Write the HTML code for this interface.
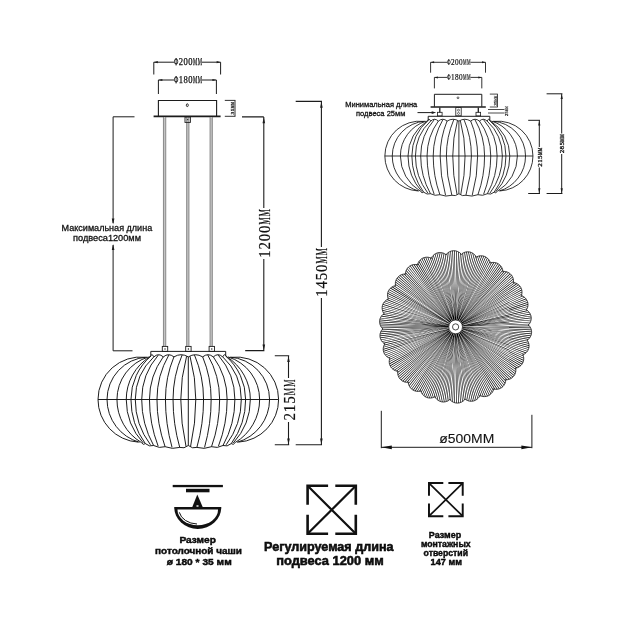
<!DOCTYPE html>
<html lang="ru"><head><meta charset="utf-8"><title>Lamp dimensions</title>
<style>
html,body{margin:0;padding:0;background:#fff;}
body{width:630px;height:630px;overflow:hidden;font-family:"Liberation Sans",sans-serif;}
svg{display:block;will-change:transform;opacity:0.999;}
</style></head><body>
<svg width="630" height="630" viewBox="0 0 630 630">
<rect width="630" height="630" fill="#fff"/>
<g stroke="#1c1c1c" fill="none" stroke-width="1">
<path d="M153.8 74.5 V62.2 H174 M202 62.2 H220.6 V74.5"/>
<path d="M158.4 94 V80 H174 M202 80 H216.4 V94"/>
<path d="M158.4 116 V100.5 H216.6 V116" stroke-width="1.1"/>
<path d="M153.6 116.3 H220.6" stroke-width="1.7"/>
<ellipse cx="187.3" cy="105.2" rx="1" ry="1.4" stroke-width="0.9"/>
<path d="M224.8 100.4 H235.4 M224.8 116.3 H235.4 M235 100.4 V116.3" stroke-width="0.9"/>
<g stroke="#c4c4c4" stroke-width="2">
<path d="M164.6 117.5 V346"/>
<path d="M187.8 117.5 V346"/>
<path d="M211.2 117.5 V346"/>
</g>
<g stroke="#6a6a6a" stroke-width="0.75">
<path d="M163.45 117 V346.4 M165.75 117 V346.4"/>
<path d="M186.65 117 V346.4 M188.95 117 V346.4"/>
<path d="M210.05 117 V346.4 M212.35 117 V346.4"/>
</g>
<rect x="185" y="117" width="5.4" height="5.4" stroke-width="0.9"/><circle cx="187.7" cy="119.6" r="0.7" fill="#1c1c1c" stroke="none"/>
<rect x="162.3" y="346.4" width="5.4" height="5" stroke-width="0.9"/><circle cx="165" cy="349" r="0.7" fill="#1c1c1c" stroke="none"/>
<rect x="185.7" y="346.4" width="5.4" height="5" stroke-width="0.9"/><circle cx="188.4" cy="349" r="0.7" fill="#1c1c1c" stroke="none"/>
<rect x="209.1" y="346.4" width="5.4" height="5" stroke-width="0.9"/><circle cx="211.8" cy="349" r="0.7" fill="#1c1c1c" stroke="none"/>
<path d="M150.8 355.6 V351.4 H225.7 V355.6" stroke-width="1"/>
<path d="M134.5 116.8 H113.1 V223 M113.1 245 V350.8 H132.5" stroke-width="1"/>
<path d="M242 116.9 H263.8 M263.8 116.9 V208 M263.8 259 V350.6 M245.2 350.6 H264.4" stroke-width="1.1"/>
<path d="M295.7 101.4 H322 M321.4 101.4 V247 M321.4 298 V444.7 M295.7 444.7 H322" stroke-width="1.1"/>
<path d="M274.8 355.7 H289.2 M274.8 444.7 H289.2 M288.5 355.7 V378 M288.5 422 V444.7" stroke-width="1.1"/>
</g>
<path d="M113.1 224.6 l-1.3 -6 h2.6 Z" fill="#1c1c1c"/>
<path d="M113.1 244 l-1.3 6 h2.6 Z" fill="#1c1c1c"/>
<path d="M263.8 117.2 l-1.3 6 h2.6 Z" fill="#1c1c1c"/>
<path d="M263.8 350.4 l-1.3 -6 h2.6 Z" fill="#1c1c1c"/>
<path d="M321.4 101.7 l-1.3 6 h2.6 Z" fill="#1c1c1c"/>
<path d="M321.4 444.4 l-1.3 -6 h2.6 Z" fill="#1c1c1c"/>
<path d="M288.5 356 l-1.3 6 h2.6 Z" fill="#1c1c1c"/>
<path d="M288.5 444.4 l-1.3 -6 h2.6 Z" fill="#1c1c1c"/>
<path d="M153.8 62.2 l4 -1.1 v2.2 Z" fill="#1c1c1c"/>
<path d="M220.6 62.2 l-4 -1.1 v2.2 Z" fill="#1c1c1c"/>
<path d="M158.4 80 l4 -1.1 v2.2 Z" fill="#1c1c1c"/>
<path d="M216.4 80 l-4 -1.1 v2.2 Z" fill="#1c1c1c"/>
<path d="M186.58 356.3 A164.35 164.35 0 0 0 180.81 399.5 A213.51 213.51 0 0 0 186.04 446.5 M182.16 354.9 A113.61 113.61 0 0 0 173.04 399.5 A175.02 175.02 0 0 0 179.72 447.4 M173.94 356.8 A111.65 111.65 0 0 0 165.45 399.5 A177.33 177.33 0 0 0 172.05 447.4 M168.89 354.9 A89.4 89.4 0 0 0 156.97 399.5 A141.13 141.13 0 0 0 165.09 446.7 M163.29 356.8 A72.89 72.89 0 0 0 149.47 399.5 A129.59 129.59 0 0 0 158.14 446.1 M158.32 355.1 A67.63 67.63 0 0 0 141.71 399.5 A94.72 94.72 0 0 0 153.62 445.5 M153.9 356.8 A58.31 58.31 0 0 0 135.29 399.5 A75.22 75.22 0 0 0 150.46 444.8 M151.1 355.9 A57.27 57.27 0 0 0 130.96 399.5 A74.91 74.91 0 0 0 145.32 443.6 M149.92 356.7 A50.54 50.54 0 0 0 126.26 399.5 A63.97 63.97 0 0 0 143.33 443 M148.57 356.9 A44.51 44.51 0 0 0 116.96 399.5 A50.11 50.11 0 0 0 141.34 442.5 M146.76 357.1 A42.49 42.49 0 0 0 107.03 399.5 A44.43 44.43 0 0 0 139.54 442.3 M145.32 357.3 A42.48 42.48 0 0 0 98 399.5 A42.67 42.67 0 0 0 138.18 442.1 M188.3 356.9 Q181.12 352.5 173.94 356.9 M173.94 356.9 Q168.61 352.5 163.29 356.9 M163.29 356.9 Q158.59 352.5 153.9 356.9 M153.9 356.9 Q151.91 352.5 149.92 356.9 M188.3 445.5 Q184.01 449.05 179.72 447.4 M179.72 447.4 Q172.41 449.65 165.09 446.7 M165.09 446.7 Q159.36 448.7 153.62 445.5 M153.62 445.5 Q149.47 447.15 145.32 443.6 M145.32 443.6 Q143.33 445.65 141.34 442.5 M190.02 356.3 A164.35 164.35 0 0 1 195.79 399.5 A213.51 213.51 0 0 1 190.56 446.5 M194.44 354.9 A113.61 113.61 0 0 1 203.56 399.5 A175.02 175.02 0 0 1 196.88 447.4 M202.66 356.8 A111.65 111.65 0 0 1 211.15 399.5 A177.33 177.33 0 0 1 204.55 447.4 M207.71 354.9 A89.4 89.4 0 0 1 219.63 399.5 A141.13 141.13 0 0 1 211.51 446.7 M213.31 356.8 A72.89 72.89 0 0 1 227.13 399.5 A129.59 129.59 0 0 1 218.46 446.1 M218.28 355.1 A67.63 67.63 0 0 1 234.89 399.5 A94.72 94.72 0 0 1 222.98 445.5 M222.7 356.8 A58.31 58.31 0 0 1 241.31 399.5 A75.22 75.22 0 0 1 226.14 444.8 M225.5 355.9 A57.27 57.27 0 0 1 245.64 399.5 A74.91 74.91 0 0 1 231.28 443.6 M226.68 356.7 A50.54 50.54 0 0 1 250.34 399.5 A63.97 63.97 0 0 1 233.27 443 M228.03 356.9 A44.51 44.51 0 0 1 259.64 399.5 A50.11 50.11 0 0 1 235.26 442.5 M229.84 357.1 A42.49 42.49 0 0 1 269.57 399.5 A44.43 44.43 0 0 1 237.06 442.3 M231.28 357.3 A42.48 42.48 0 0 1 278.6 399.5 A42.67 42.67 0 0 1 238.42 442.1 M188.3 356.9 Q195.48 352.5 202.66 356.9 M202.66 356.9 Q207.99 352.5 213.31 356.9 M213.31 356.9 Q218.01 352.5 222.7 356.9 M222.7 356.9 Q224.69 352.5 226.68 356.9 M188.3 445.5 Q192.59 449.05 196.88 447.4 M196.88 447.4 Q204.19 449.65 211.51 446.7 M211.51 446.7 Q217.24 448.7 222.98 445.5 M222.98 445.5 Q227.13 447.15 231.28 443.6 M231.28 443.6 Q233.27 445.65 235.26 442.5 M188.3 356.9 V445.5 M98 399.5 H278.6" fill="none" stroke="#111" stroke-width="0.95"/>
<g stroke="#1c1c1c" fill="none" stroke-width="0.9">
<path d="M430.6 72.7 V62.3 H447 M470.5 62.3 H485.5 V72.7"/>
<path d="M434.4 88.4 V77.4 H447 M470.5 77.4 H481.8 V88.4"/>
<path d="M434.4 106.8 V94.3 H481.8 V106.8" stroke-width="1"/>
<path d="M430.6 107 H485.8" stroke-width="1.5"/>
<circle cx="458" cy="97.8" r="0.9" stroke-width="0.7"/>
<path d="M439.8 107.5 V112.5" stroke-width="1.3"/>
<rect x="437.5" y="112.3" width="4.6" height="3.6" stroke-width="0.8"/>
<path d="M478.3 107.5 V112.5" stroke-width="1.3"/>
<rect x="476" y="112.3" width="4.6" height="3.6" stroke-width="0.8"/>
<rect x="455.8" y="107.6" width="5.4" height="8.2" stroke-width="0.8"/><circle cx="458.5" cy="110.2" r="1" stroke-width="0.6"/><circle cx="458.5" cy="113.4" r="1" stroke-width="0.6"/>
<path d="M428.2 120.2 V116.3 H489.8 V120.2" stroke-width="1"/>
<path d="M489.8 94.1 H497.8 M489.8 107 H497.8 M497.5 94.1 V107" stroke-width="0.8"/>
<path d="M488 109.5 H504.5 M488 113 H504.5" stroke-width="0.8"/>
<path d="M417.5 112.6 H434" stroke-width="1"/>
<path d="M528.2 120.3 H540 M528.2 193.5 H540 M539.3 120.3 V147 M539.3 167.5 V193.5" stroke-width="1"/>
<path d="M546.6 93.8 H562.4 M546.6 193.5 H562.4 M561.7 93.8 V133.5 M561.7 154 V193.5" stroke-width="1"/>
</g>
<path d="M436.2 112.6 l-4.5 -1.3 v2.6 Z" fill="#1c1c1c"/>
<path d="M539.3 120.6 l-1.1 5 h2.2 Z" fill="#1c1c1c"/>
<path d="M539.3 193.2 l-1.1 -5 h2.2 Z" fill="#1c1c1c"/>
<path d="M561.7 94.1 l-1.1 5 h2.2 Z" fill="#1c1c1c"/>
<path d="M561.7 193.2 l-1.1 -5 h2.2 Z" fill="#1c1c1c"/>
<path d="M430.6 62.3 l3.5 -1 v2 Z" fill="#1c1c1c"/>
<path d="M485.5 62.3 l-3.5 -1 v2 Z" fill="#1c1c1c"/>
<path d="M434.4 77.4 l3.5 -1 v2 Z" fill="#1c1c1c"/>
<path d="M481.8 77.4 l-3.5 -1 v2 Z" fill="#1c1c1c"/>
<path d="M457.49 120.58 A134.77 134.77 0 0 0 452.75 156 A175.07 175.07 0 0 0 457.05 194.54 M453.86 119.43 A93.16 93.16 0 0 0 446.39 156 A143.52 143.52 0 0 0 451.87 195.28 M447.13 120.99 A91.55 91.55 0 0 0 440.17 156 A145.41 145.41 0 0 0 445.57 195.28 M442.98 119.43 A73.31 73.31 0 0 0 433.21 156 A115.72 115.72 0 0 0 439.87 194.7 M438.39 120.99 A59.77 59.77 0 0 0 427.06 156 A106.26 106.26 0 0 0 434.17 194.21 M434.32 119.59 A55.46 55.46 0 0 0 420.69 156 A77.67 77.67 0 0 0 430.47 193.72 M430.69 120.99 A47.81 47.81 0 0 0 415.43 156 A61.68 61.68 0 0 0 427.87 193.15 M428.39 120.25 A46.96 46.96 0 0 0 411.88 156 A61.42 61.42 0 0 0 423.65 192.16 M427.43 120.9 A41.45 41.45 0 0 0 408.03 156 A52.46 52.46 0 0 0 422.03 191.67 M426.32 121.07 A36.5 36.5 0 0 0 400.4 156 A41.09 41.09 0 0 0 420.4 191.26 M424.84 121.23 A34.84 34.84 0 0 0 392.26 156 A36.43 36.43 0 0 0 418.92 191.1 M423.65 121.4 A34.83 34.83 0 0 0 384.85 156 A34.99 34.99 0 0 0 417.8 190.93 M458.9 121.07 Q453.01 117.46 447.13 121.07 M447.13 121.07 Q442.76 117.46 438.39 121.07 M438.39 121.07 Q434.54 117.46 430.69 121.07 M430.69 121.07 Q429.06 117.46 427.43 121.07 M458.9 193.72 Q455.38 196.63 451.87 195.28 M451.87 195.28 Q445.87 197.12 439.87 194.7 M439.87 194.7 Q435.17 196.34 430.47 193.72 M430.47 193.72 Q427.06 195.07 423.65 192.16 M423.65 192.16 Q422.03 193.84 420.4 191.26 M460.31 120.58 A134.77 134.77 0 0 1 465.05 156 A175.07 175.07 0 0 1 460.75 194.54 M463.94 119.43 A93.16 93.16 0 0 1 471.41 156 A143.52 143.52 0 0 1 465.93 195.28 M470.67 120.99 A91.55 91.55 0 0 1 477.63 156 A145.41 145.41 0 0 1 472.23 195.28 M474.82 119.43 A73.31 73.31 0 0 1 484.59 156 A115.72 115.72 0 0 1 477.93 194.7 M479.41 120.99 A59.77 59.77 0 0 1 490.74 156 A106.26 106.26 0 0 1 483.63 194.21 M483.48 119.59 A55.46 55.46 0 0 1 497.11 156 A77.67 77.67 0 0 1 487.33 193.72 M487.11 120.99 A47.81 47.81 0 0 1 502.37 156 A61.68 61.68 0 0 1 489.93 193.15 M489.41 120.25 A46.96 46.96 0 0 1 505.92 156 A61.42 61.42 0 0 1 494.15 192.16 M490.37 120.9 A41.45 41.45 0 0 1 509.77 156 A52.46 52.46 0 0 1 495.77 191.67 M491.48 121.07 A36.5 36.5 0 0 1 517.4 156 A41.09 41.09 0 0 1 497.4 191.26 M492.96 121.23 A34.84 34.84 0 0 1 525.54 156 A36.43 36.43 0 0 1 498.88 191.1 M494.15 121.4 A34.83 34.83 0 0 1 532.95 156 A34.99 34.99 0 0 1 500 190.93 M458.9 121.07 Q464.79 117.46 470.67 121.07 M470.67 121.07 Q475.04 117.46 479.41 121.07 M479.41 121.07 Q483.26 117.46 487.11 121.07 M487.11 121.07 Q488.74 117.46 490.37 121.07 M458.9 193.72 Q462.42 196.63 465.93 195.28 M465.93 195.28 Q471.93 197.12 477.93 194.7 M477.93 194.7 Q482.63 196.34 487.33 193.72 M487.33 193.72 Q490.74 195.07 494.15 192.16 M494.15 192.16 Q495.77 193.84 497.4 191.26 M458.9 121.07 V193.72 M384.85 156 H532.95" fill="none" stroke="#111" stroke-width="0.85"/>
<path d="M462.5 327.1 L529.35 326.27 L529.33 325.59 L462.5 326.92Z M462.5 327.22 L530.58 328.22 L530.58 327.54 L462.5 327.04Z M462.49 327.35 L531.29 330.21 L531.32 329.53 L462.49 327.17Z M462.48 327.47 L531.57 332.22 L531.61 331.54 L462.49 327.29Z M462.47 327.59 L531.4 334.21 L531.46 333.53 L462.48 327.41Z M462.45 327.71 L530.8 336.14 L530.88 335.47 L462.47 327.54Z M462.43 327.84 L529.76 338 L529.86 337.32 L462.46 327.66Z M462.42 327.96 L528.22 339.72 L528.34 339.05 L462.45 327.78Z M462.31 328.53 L527.86 341.62 L528 340.95 L462.34 328.36Z M462.28 328.65 L528.66 343.78 L528.81 343.12 L462.32 328.48Z M462.24 328.77 L528.95 345.88 L529.12 345.22 L462.29 328.6Z M462.21 328.89 L528.8 347.9 L528.98 347.24 L462.26 328.71Z M462.17 329 L528.23 349.81 L528.43 349.16 L462.22 328.83Z M462.13 329.12 L527.23 351.58 L527.45 350.93 L462.19 328.95Z M462.09 329.24 L525.83 353.17 L526.07 352.54 L462.15 329.07Z M462.05 329.35 L523.97 354.54 L524.22 353.91 L462.11 329.18Z M461.82 329.89 L523.22 356.32 L523.49 355.7 L461.89 329.73Z M461.77 330 L523.56 358.6 L523.84 357.98 L461.84 329.84Z M461.71 330.11 L523.4 360.71 L523.7 360.1 L461.79 329.95Z M461.65 330.22 L522.83 362.66 L523.15 362.06 L461.73 330.06Z M461.59 330.32 L521.88 364.41 L522.21 363.81 L461.68 330.17Z M461.53 330.43 L520.54 365.93 L520.89 365.35 L461.62 330.28Z M461.46 330.53 L518.84 367.2 L519.2 366.63 L461.56 330.38Z M461.4 330.64 L516.73 368.15 L517.11 367.59 L461.5 330.49Z M461.06 331.12 L515.63 369.74 L516.02 369.18 L461.17 330.97Z M460.99 331.22 L515.48 372.04 L515.89 371.49 L461.09 331.07Z M460.91 331.31 L514.89 374.07 L515.31 373.54 L461.02 331.17Z M460.83 331.4 L513.93 375.86 L514.37 375.33 L460.94 331.27Z M460.75 331.5 L512.63 377.37 L513.08 376.85 L460.87 331.36Z M460.66 331.59 L511 378.58 L511.47 378.08 L460.79 331.45Z M460.58 331.67 L509.07 379.47 L509.55 378.98 L460.71 331.55Z M460.49 331.76 L506.82 379.96 L507.3 379.49 L460.62 331.64Z M460.07 332.16 L505.41 381.29 L505.91 380.82 L460.2 332.04Z M459.97 332.24 L504.79 383.5 L505.3 383.05 L460.11 332.12Z M459.88 332.32 L503.79 385.37 L504.31 384.93 L460.01 332.2Z M459.78 332.39 L502.48 386.91 L503.01 386.49 L459.92 332.28Z M459.68 332.47 L500.89 388.12 L501.44 387.71 L459.82 332.36Z M459.58 332.54 L499.05 388.97 L499.6 388.58 L459.73 332.43Z M459.48 332.61 L496.98 389.44 L497.54 389.06 L459.63 332.51Z M459.38 332.67 L494.66 389.45 L495.24 389.09 L459.53 332.58Z M458.88 332.98 L493.01 390.45 L493.6 390.1 L459.03 332.88Z M458.77 333.03 L491.94 392.49 L492.54 392.16 L458.92 332.95Z M458.66 333.09 L490.58 394.11 L491.18 393.79 L458.82 333Z M458.55 333.14 L488.98 395.35 L489.59 395.05 L458.71 333.06Z M458.43 333.19 L487.17 396.2 L487.79 395.91 L458.6 333.12Z M458.32 333.24 L485.19 396.64 L485.82 396.38 L458.49 333.17Z M458.21 333.29 L483.07 396.67 L483.7 396.42 L458.37 333.22Z M458.09 333.33 L480.81 396.21 L481.44 395.97 L458.26 333.27Z M457.54 333.53 L478.98 396.84 L479.63 396.62 L457.71 333.47Z M457.42 333.56 L477.51 398.61 L478.16 398.41 L457.59 333.5Z M457.3 333.59 L475.84 399.91 L476.49 399.73 L457.48 333.54Z M457.18 333.62 L474.02 400.79 L474.67 400.62 L457.36 333.57Z M457.06 333.64 L472.07 401.25 L472.74 401.1 L457.24 333.6Z M456.94 333.67 L470.05 401.27 L470.71 401.14 L457.12 333.63Z M456.82 333.69 L467.96 400.86 L468.63 400.75 L457 333.66Z M456.7 333.71 L465.85 399.93 L466.52 399.84 L456.88 333.68Z M456.12 333.78 L463.93 400.18 L464.61 400.09 L456.3 333.76Z M456 333.79 L462.12 401.6 L462.8 401.54 L456.18 333.77Z M455.87 333.8 L460.22 402.52 L460.89 402.48 L456.05 333.78Z M455.75 333.8 L458.25 403.01 L458.93 402.98 L455.93 333.79Z M455.63 333.8 L456.26 403.05 L456.94 403.04 L455.81 333.8Z M455.51 333.8 L454.27 402.65 L454.95 402.66 L455.69 333.8Z M455.38 333.8 L452.32 401.81 L453 401.84 L455.56 333.8Z M455.26 333.79 L450.44 400.47 L451.12 400.51 L455.44 333.8Z M454.68 333.74 L448.51 400.31 L449.19 400.37 L454.86 333.76Z M454.56 333.72 L446.45 401.33 L447.12 401.41 L454.74 333.74Z M454.44 333.7 L444.39 401.83 L445.07 401.93 L454.61 333.73Z M454.31 333.68 L442.37 401.89 L443.04 402.01 L454.49 333.71Z M454.19 333.66 L440.41 401.52 L441.08 401.65 L454.37 333.69Z M454.07 333.63 L438.55 400.72 L439.21 400.87 L454.25 333.67Z M453.95 333.6 L436.81 399.49 L437.47 399.66 L454.13 333.64Z M453.84 333.57 L435.26 397.78 L435.91 397.97 L454.01 333.62Z M453.28 333.4 L433.41 397.23 L434.06 397.43 L453.45 333.45Z M453.16 333.36 L431.17 397.8 L431.82 398.01 L453.33 333.41Z M453.05 333.31 L429.06 397.86 L429.7 398.1 L453.22 333.37Z M452.93 333.26 L427.07 397.5 L427.7 397.76 L453.1 333.33Z M452.82 333.22 L425.23 396.73 L425.85 397 L452.99 333.29Z M452.71 333.16 L423.57 395.56 L424.19 395.85 L452.87 333.24Z M452.6 333.11 L422.13 394 L422.74 394.3 L452.76 333.19Z M452.49 333.06 L420.96 392.01 L421.56 392.32 L452.65 333.14Z M451.97 332.78 L419.27 391.08 L419.86 391.41 L452.13 332.86Z M451.87 332.71 L416.97 391.17 L417.55 391.52 L452.03 332.8Z M451.77 332.64 L414.88 390.79 L415.46 391.16 L451.92 332.74Z M451.67 332.57 L413.01 390.03 L413.58 390.41 L451.82 332.67Z M451.57 332.5 L411.37 388.89 L411.93 389.28 L451.71 332.6Z M451.47 332.43 L410 387.4 L410.54 387.81 L451.61 332.53Z M451.37 332.35 L408.91 385.58 L409.44 386 L451.51 332.46Z M451.28 332.27 L408.18 383.38 L408.7 383.82 L451.41 332.39Z M450.83 331.89 L406.72 382.12 L407.23 382.57 L450.97 332.01Z M450.74 331.81 L404.45 381.73 L404.95 382.19 L450.88 331.93Z M450.66 331.72 L402.49 380.93 L402.98 381.41 L450.79 331.84Z M450.57 331.63 L400.82 379.79 L401.29 380.28 L450.7 331.76Z M450.49 331.54 L399.45 378.34 L399.91 378.84 L450.61 331.67Z M450.41 331.45 L398.41 376.6 L398.86 377.11 L450.53 331.58Z M450.33 331.35 L397.73 374.59 L398.16 375.11 L450.45 331.49Z M450.25 331.26 L397.48 372.29 L397.9 372.82 L450.36 331.4Z M449.9 330.79 L396.31 370.75 L396.71 371.3 L450.01 330.94Z M449.83 330.69 L394.17 369.9 L394.56 370.45 L449.94 330.84Z M449.77 330.59 L392.42 368.71 L392.79 369.27 L449.87 330.74Z M449.7 330.48 L391.02 367.25 L391.38 367.82 L449.8 330.63Z M449.64 330.38 L389.98 365.54 L390.33 366.13 L449.73 330.53Z M449.58 330.27 L389.33 363.62 L389.66 364.22 L449.67 330.43Z M449.52 330.16 L389.08 361.51 L389.4 362.12 L449.6 330.32Z M449.46 330.05 L389.31 359.21 L389.61 359.82 L449.54 330.21Z M449.21 329.52 L388.48 357.47 L388.77 358.08 L449.29 329.69Z M449.17 329.41 L386.57 356.19 L386.84 356.81 L449.24 329.57Z M449.13 329.29 L385.1 354.66 L385.36 355.29 L449.19 329.46Z M449.09 329.18 L384.04 352.94 L384.27 353.58 L449.15 329.35Z M449.05 329.06 L383.38 351.06 L383.6 351.7 L449.1 329.23Z M449.01 328.94 L383.14 349.04 L383.34 349.69 L449.06 329.11Z M448.98 328.82 L383.34 346.93 L383.52 347.58 L449.02 329Z M448.94 328.71 L384.04 344.72 L384.21 345.38 L448.99 328.88Z M448.81 328.14 L383.6 342.84 L383.75 343.51 L448.85 328.31Z M448.79 328.02 L381.99 341.2 L382.12 341.86 L448.82 328.19Z M448.77 327.89 L380.87 339.4 L380.99 340.07 L448.8 328.07Z M448.75 327.77 L380.19 337.49 L380.29 338.16 L448.78 327.95Z M448.74 327.65 L379.94 335.51 L380.02 336.19 L448.76 327.83Z M448.73 327.53 L380.12 333.49 L380.18 334.17 L448.75 327.71Z M448.72 327.41 L380.75 331.46 L380.8 332.14 L448.73 327.59Z M448.71 327.28 L381.9 329.46 L381.92 330.14 L448.72 327.46Z M448.7 326.7 L381.85 327.53 L381.87 328.21 L448.7 326.88Z M448.7 326.58 L380.62 325.58 L380.62 326.26 L448.7 326.76Z M448.71 326.45 L379.91 323.59 L379.88 324.27 L448.71 326.63Z M448.72 326.33 L379.63 321.58 L379.59 322.26 L448.71 326.51Z M448.73 326.21 L379.8 319.59 L379.74 320.27 L448.72 326.39Z M448.75 326.09 L380.4 317.66 L380.32 318.33 L448.73 326.26Z M448.77 325.96 L381.44 315.8 L381.34 316.48 L448.74 326.14Z M448.78 325.84 L382.98 314.08 L382.86 314.75 L448.75 326.02Z M448.89 325.27 L383.34 312.18 L383.2 312.85 L448.86 325.44Z M448.92 325.15 L382.54 310.02 L382.39 310.68 L448.88 325.32Z M448.96 325.03 L382.25 307.92 L382.08 308.58 L448.91 325.2Z M448.99 324.91 L382.4 305.9 L382.22 306.56 L448.94 325.09Z M449.03 324.8 L382.97 303.99 L382.77 304.64 L448.98 324.97Z M449.07 324.68 L383.97 302.22 L383.75 302.87 L449.01 324.85Z M449.11 324.56 L385.37 300.63 L385.13 301.26 L449.05 324.73Z M449.15 324.45 L387.23 299.26 L386.98 299.89 L449.09 324.62Z M449.38 323.91 L387.98 297.48 L387.71 298.1 L449.31 324.07Z M449.43 323.8 L387.64 295.2 L387.36 295.82 L449.36 323.96Z M449.49 323.69 L387.8 293.09 L387.5 293.7 L449.41 323.85Z M449.55 323.58 L388.37 291.14 L388.05 291.74 L449.47 323.74Z M449.61 323.48 L389.32 289.39 L388.99 289.99 L449.52 323.63Z M449.67 323.37 L390.66 287.87 L390.31 288.45 L449.58 323.52Z M449.74 323.27 L392.36 286.6 L392 287.17 L449.64 323.42Z M449.8 323.16 L394.47 285.65 L394.09 286.21 L449.7 323.31Z M450.14 322.68 L395.57 284.06 L395.18 284.62 L450.03 322.83Z M450.21 322.58 L395.72 281.76 L395.31 282.31 L450.11 322.73Z M450.29 322.49 L396.31 279.73 L395.89 280.26 L450.18 322.63Z M450.37 322.4 L397.27 277.94 L396.83 278.47 L450.26 322.53Z M450.45 322.3 L398.57 276.43 L398.12 276.95 L450.33 322.44Z M450.54 322.21 L400.2 275.22 L399.73 275.72 L450.41 322.35Z M450.62 322.13 L402.13 274.33 L401.65 274.82 L450.49 322.25Z M450.71 322.04 L404.38 273.84 L403.9 274.31 L450.58 322.16Z M451.13 321.64 L405.79 272.51 L405.29 272.98 L451 321.76Z M451.23 321.56 L406.41 270.3 L405.9 270.75 L451.09 321.68Z M451.32 321.48 L407.41 268.43 L406.89 268.87 L451.19 321.6Z M451.42 321.41 L408.72 266.89 L408.19 267.31 L451.28 321.52Z M451.52 321.33 L410.31 265.68 L409.76 266.09 L451.38 321.44Z M451.62 321.26 L412.15 264.83 L411.6 265.22 L451.47 321.37Z M451.72 321.19 L414.22 264.36 L413.66 264.74 L451.57 321.29Z M451.82 321.13 L416.54 264.35 L415.96 264.71 L451.67 321.22Z M452.32 320.82 L418.19 263.35 L417.6 263.7 L452.17 320.92Z M452.43 320.77 L419.26 261.31 L418.66 261.64 L452.28 320.85Z M452.54 320.71 L420.62 259.69 L420.02 260.01 L452.38 320.8Z M452.65 320.66 L422.22 258.45 L421.61 258.75 L452.49 320.74Z M452.77 320.61 L424.03 257.6 L423.41 257.89 L452.6 320.68Z M452.88 320.56 L426.01 257.16 L425.38 257.42 L452.71 320.63Z M452.99 320.51 L428.13 257.13 L427.5 257.38 L452.83 320.58Z M453.11 320.47 L430.39 257.59 L429.76 257.83 L452.94 320.53Z M453.66 320.27 L432.22 256.96 L431.57 257.18 L453.49 320.33Z M453.78 320.24 L433.69 255.19 L433.04 255.39 L453.61 320.3Z M453.9 320.21 L435.36 253.89 L434.71 254.07 L453.72 320.26Z M454.02 320.18 L437.18 253.01 L436.53 253.18 L453.84 320.23Z M454.14 320.16 L439.13 252.55 L438.46 252.7 L453.96 320.2Z M454.26 320.13 L441.15 252.53 L440.49 252.66 L454.08 320.17Z M454.38 320.11 L443.24 252.94 L442.57 253.05 L454.2 320.14Z M454.5 320.09 L445.35 253.87 L444.68 253.96 L454.32 320.12Z M455.08 320.02 L447.27 253.62 L446.59 253.71 L454.9 320.04Z M455.2 320.01 L449.08 252.2 L448.4 252.26 L455.02 320.03Z M455.33 320 L450.98 251.28 L450.31 251.32 L455.15 320.02Z M455.45 320 L452.95 250.79 L452.27 250.82 L455.27 320.01Z M455.57 320 L454.94 250.75 L454.26 250.76 L455.39 320Z M455.69 320 L456.93 251.15 L456.25 251.14 L455.51 320Z M455.82 320 L458.88 251.99 L458.2 251.96 L455.64 320Z M455.94 320.01 L460.76 253.33 L460.08 253.29 L455.76 320Z M456.52 320.06 L462.69 253.49 L462.01 253.43 L456.34 320.04Z M456.64 320.08 L464.75 252.47 L464.08 252.39 L456.46 320.06Z M456.76 320.1 L466.81 251.97 L466.13 251.87 L456.59 320.07Z M456.89 320.12 L468.83 251.91 L468.16 251.79 L456.71 320.09Z M457.01 320.14 L470.79 252.28 L470.12 252.15 L456.83 320.11Z M457.13 320.17 L472.65 253.08 L471.99 252.93 L456.95 320.13Z M457.25 320.2 L474.39 254.31 L473.73 254.14 L457.07 320.16Z M457.36 320.23 L475.94 256.02 L475.29 255.83 L457.19 320.18Z M457.92 320.4 L477.79 256.57 L477.14 256.37 L457.75 320.35Z M458.04 320.44 L480.03 256 L479.38 255.79 L457.87 320.39Z M458.15 320.49 L482.14 255.94 L481.5 255.7 L457.98 320.43Z M458.27 320.54 L484.13 256.3 L483.5 256.04 L458.1 320.47Z M458.38 320.58 L485.97 257.07 L485.35 256.8 L458.21 320.51Z M458.49 320.64 L487.63 258.24 L487.01 257.95 L458.33 320.56Z M458.6 320.69 L489.07 259.8 L488.46 259.5 L458.44 320.61Z M458.71 320.74 L490.24 261.79 L489.64 261.48 L458.55 320.66Z M459.23 321.02 L491.93 262.72 L491.34 262.39 L459.07 320.94Z M459.33 321.09 L494.23 262.63 L493.65 262.28 L459.17 321Z M459.43 321.16 L496.32 263.01 L495.74 262.64 L459.28 321.06Z M459.53 321.23 L498.19 263.77 L497.62 263.39 L459.38 321.13Z M459.63 321.3 L499.83 264.91 L499.27 264.52 L459.49 321.2Z M459.73 321.37 L501.2 266.4 L500.66 265.99 L459.59 321.27Z M459.83 321.45 L502.29 268.22 L501.76 267.8 L459.69 321.34Z M459.92 321.53 L503.02 270.42 L502.5 269.98 L459.79 321.41Z M460.37 321.91 L504.48 271.68 L503.97 271.23 L460.23 321.79Z M460.46 321.99 L506.75 272.07 L506.25 271.61 L460.32 321.87Z M460.54 322.08 L508.71 272.87 L508.22 272.39 L460.41 321.96Z M460.63 322.17 L510.38 274.01 L509.91 273.52 L460.5 322.04Z M460.71 322.26 L511.75 275.46 L511.29 274.96 L460.59 322.13Z M460.79 322.35 L512.79 277.2 L512.34 276.69 L460.67 322.22Z M460.87 322.45 L513.47 279.21 L513.04 278.69 L460.75 322.31Z M460.95 322.54 L513.72 281.51 L513.3 280.98 L460.84 322.4Z M461.3 323.01 L514.89 283.05 L514.49 282.5 L461.19 322.86Z M461.37 323.11 L517.03 283.9 L516.64 283.35 L461.26 322.96Z M461.43 323.21 L518.78 285.09 L518.41 284.53 L461.33 323.06Z M461.5 323.32 L520.18 286.55 L519.82 285.98 L461.4 323.17Z M461.56 323.42 L521.22 288.26 L520.87 287.67 L461.47 323.27Z M461.62 323.53 L521.87 290.18 L521.54 289.58 L461.53 323.37Z M461.68 323.64 L522.12 292.29 L521.8 291.68 L461.6 323.48Z M461.74 323.75 L521.89 294.59 L521.59 293.98 L461.66 323.59Z M461.99 324.28 L522.72 296.33 L522.43 295.72 L461.91 324.11Z M462.03 324.39 L524.63 297.61 L524.36 296.99 L461.96 324.23Z M462.07 324.51 L526.1 299.14 L525.84 298.51 L462.01 324.34Z M462.11 324.62 L527.16 300.86 L526.93 300.22 L462.05 324.45Z M462.15 324.74 L527.82 302.74 L527.6 302.1 L462.1 324.57Z M462.19 324.86 L528.06 304.76 L527.86 304.11 L462.14 324.69Z M462.22 324.98 L527.86 306.87 L527.68 306.22 L462.18 324.8Z M462.26 325.09 L527.16 309.08 L526.99 308.42 L462.21 324.92Z M462.39 325.66 L527.6 310.96 L527.45 310.29 L462.35 325.49Z M462.41 325.78 L529.21 312.6 L529.08 311.94 L462.38 325.61Z M462.43 325.91 L530.33 314.4 L530.21 313.73 L462.4 325.73Z M462.45 326.03 L531.01 316.31 L530.91 315.64 L462.42 325.85Z M462.46 326.15 L531.26 318.29 L531.18 317.61 L462.44 325.97Z M462.47 326.27 L531.08 320.31 L531.02 319.63 L462.45 326.09Z M462.48 326.39 L530.45 322.34 L530.4 321.66 L462.47 326.21Z M462.49 326.52 L529.3 324.34 L529.28 323.66 L462.48 326.34Z" fill="#000" stroke="none"/>
<path d="M530.04 326.9 L530.41 327.55 L530.73 328.21 L531 328.87 L531.22 329.54 L531.38 330.21 L531.5 330.88 L531.57 331.55 L531.59 332.21 L531.57 332.88 L531.49 333.54 L531.36 334.2 L531.19 334.84 L530.97 335.49 L530.7 336.12 L530.38 336.74 L530.01 337.36 L529.59 337.96 L529.12 338.54 L528.58 339.11 L527.95 339.66 L526.98 340.13 L527.72 340.92 L528.11 341.65 L528.41 342.38 L528.64 343.09 L528.82 343.8 L528.94 344.51 L529.01 345.2 L529.04 345.89 L529.02 346.57 L528.95 347.24 L528.83 347.9 L528.66 348.54 L528.45 349.17 L528.19 349.79 L527.89 350.39 L527.54 350.97 L527.14 351.53 L526.7 352.08 L526.21 352.6 L525.68 353.1 L525.09 353.58 L524.45 354.02 L523.72 354.42 L522.67 354.68 L523.23 355.61 L523.46 356.41 L523.6 357.18 L523.68 357.93 L523.7 358.66 L523.68 359.37 L523.6 360.07 L523.49 360.75 L523.32 361.41 L523.11 362.05 L522.86 362.66 L522.57 363.26 L522.23 363.83 L521.85 364.38 L521.42 364.9 L520.96 365.4 L520.45 365.87 L519.91 366.31 L519.33 366.72 L518.7 367.1 L518.03 367.44 L517.31 367.74 L516.51 367.98 L515.43 368.02 L515.78 369.04 L515.84 369.87 L515.82 370.65 L515.74 371.4 L515.61 372.12 L515.44 372.82 L515.22 373.48 L514.96 374.12 L514.67 374.73 L514.33 375.31 L513.96 375.87 L513.54 376.39 L513.09 376.88 L512.61 377.33 L512.08 377.76 L511.53 378.15 L510.94 378.5 L510.31 378.82 L509.65 379.1 L508.96 379.34 L508.24 379.54 L507.47 379.68 L506.63 379.75 L505.57 379.56 L505.7 380.63 L505.59 381.46 L505.41 382.22 L505.17 382.93 L504.9 383.61 L504.58 384.25 L504.23 384.86 L503.85 385.43 L503.43 385.97 L502.98 386.47 L502.5 386.93 L501.99 387.35 L501.45 387.74 L500.87 388.08 L500.28 388.39 L499.65 388.65 L499 388.88 L498.32 389.06 L497.62 389.2 L496.89 389.29 L496.14 389.33 L495.36 389.31 L494.53 389.2 L493.53 388.8 L493.44 389.87 L493.16 390.66 L492.82 391.36 L492.44 392.02 L492.03 392.62 L491.59 393.18 L491.12 393.71 L490.63 394.18 L490.11 394.62 L489.56 395.02 L488.99 395.37 L488.4 395.68 L487.79 395.94 L487.16 396.16 L486.51 396.33 L485.85 396.46 L485.16 396.55 L484.46 396.58 L483.75 396.57 L483.02 396.51 L482.28 396.39 L481.51 396.21 L480.73 395.94 L479.83 395.34 L479.52 396.36 L479.08 397.07 L478.6 397.69 L478.1 398.25 L477.57 398.76 L477.02 399.22 L476.46 399.63 L475.87 400 L475.27 400.32 L474.66 400.59 L474.03 400.82 L473.39 400.99 L472.74 401.13 L472.07 401.21 L471.4 401.24 L470.72 401.23 L470.04 401.17 L469.35 401.06 L468.65 400.9 L467.95 400.69 L467.24 400.42 L466.54 400.08 L465.82 399.65 L465.08 398.88 L464.55 399.82 L463.98 400.42 L463.38 400.93 L462.77 401.37 L462.15 401.76 L461.52 402.09 L460.88 402.38 L460.23 402.61 L459.58 402.8 L458.92 402.94 L458.26 403.03 L457.59 403.07 L456.93 403.07 L456.26 403.01 L455.6 402.91 L454.94 402.75 L454.28 402.55 L453.63 402.3 L452.98 402 L452.34 401.64 L451.7 401.24 L451.08 400.76 L450.48 400.19 L449.9 399.28 L449.2 400.09 L448.51 400.56 L447.82 400.93 L447.13 401.24 L446.44 401.48 L445.76 401.68 L445.07 401.83 L444.39 401.92 L443.71 401.97 L443.04 401.97 L442.37 401.92 L441.71 401.82 L441.06 401.68 L440.43 401.49 L439.8 401.24 L439.18 400.96 L438.58 400.62 L437.99 400.24 L437.42 399.81 L436.87 399.33 L436.33 398.8 L435.82 398.21 L435.35 397.52 L434.98 396.51 L434.12 397.16 L433.35 397.47 L432.6 397.69 L431.86 397.85 L431.14 397.95 L430.42 398 L429.72 398 L429.03 397.95 L428.36 397.86 L427.7 397.72 L427.06 397.53 L426.44 397.3 L425.83 397.02 L425.25 396.7 L424.69 396.33 L424.14 395.93 L423.62 395.47 L423.13 394.98 L422.66 394.44 L422.22 393.86 L421.81 393.22 L421.43 392.54 L421.11 391.77 L420.96 390.7 L419.98 391.15 L419.16 391.3 L418.38 391.36 L417.63 391.36 L416.9 391.31 L416.19 391.21 L415.51 391.06 L414.84 390.88 L414.2 390.64 L413.59 390.37 L413 390.05 L412.44 389.7 L411.91 389.3 L411.4 388.87 L410.92 388.39 L410.48 387.88 L410.07 387.33 L409.68 386.74 L409.34 386.11 L409.03 385.45 L408.75 384.75 L408.53 384 L408.38 383.18 L408.45 382.11 L407.4 382.35 L406.57 382.32 L405.79 382.22 L405.06 382.06 L404.35 381.86 L403.68 381.61 L403.04 381.33 L402.43 381 L401.86 380.64 L401.31 380.25 L400.8 379.82 L400.33 379.35 L399.89 378.85 L399.48 378.32 L399.12 377.76 L398.79 377.16 L398.5 376.54 L398.25 375.88 L398.04 375.2 L397.87 374.49 L397.75 373.75 L397.69 372.96 L397.71 372.13 L398 371.1 L396.93 371.11 L396.12 370.92 L395.38 370.65 L394.69 370.35 L394.05 370 L393.44 369.62 L392.87 369.21 L392.35 368.77 L391.86 368.3 L391.41 367.8 L391 367.27 L390.63 366.71 L390.3 366.13 L390.02 365.53 L389.78 364.9 L389.58 364.25 L389.42 363.58 L389.32 362.89 L389.25 362.18 L389.24 361.45 L389.28 360.69 L389.38 359.92 L389.57 359.11 L390.07 358.16 L389.02 357.95 L388.27 357.59 L387.6 357.18 L386.99 356.73 L386.43 356.26 L385.92 355.76 L385.45 355.24 L385.02 354.7 L384.64 354.14 L384.31 353.56 L384.02 352.95 L383.77 352.34 L383.57 351.7 L383.42 351.05 L383.31 350.39 L383.26 349.71 L383.24 349.02 L383.28 348.32 L383.37 347.61 L383.5 346.89 L383.7 346.17 L383.96 345.43 L384.32 344.67 L385.01 343.85 L384.02 343.43 L383.36 342.92 L382.79 342.38 L382.29 341.82 L381.84 341.24 L381.44 340.65 L381.09 340.04 L380.79 339.42 L380.53 338.79 L380.32 338.15 L380.16 337.5 L380.05 336.85 L379.99 336.18 L379.98 335.52 L380.01 334.84 L380.09 334.17 L380.23 333.49 L380.41 332.82 L380.64 332.14 L380.92 331.47 L381.26 330.8 L381.67 330.13 L382.18 329.46 L383.02 328.8 L382.15 328.18 L381.61 327.55 L381.16 326.9 L380.79 326.25 L380.47 325.59 L380.2 324.93 L379.98 324.26 L379.82 323.59 L379.7 322.92 L379.63 322.25 L379.61 321.59 L379.63 320.92 L379.71 320.26 L379.84 319.6 L380.01 318.96 L380.23 318.31 L380.5 317.68 L380.82 317.06 L381.19 316.44 L381.61 315.84 L382.08 315.26 L382.62 314.69 L383.25 314.14 L384.22 313.67 L383.48 312.88 L383.09 312.15 L382.79 311.42 L382.56 310.71 L382.38 310 L382.26 309.29 L382.19 308.6 L382.16 307.91 L382.18 307.23 L382.25 306.56 L382.37 305.9 L382.54 305.26 L382.75 304.63 L383.01 304.01 L383.31 303.41 L383.66 302.83 L384.06 302.27 L384.5 301.72 L384.99 301.2 L385.52 300.7 L386.11 300.22 L386.75 299.78 L387.48 299.38 L388.53 299.12 L387.97 298.19 L387.74 297.39 L387.6 296.62 L387.52 295.87 L387.5 295.14 L387.52 294.43 L387.6 293.73 L387.71 293.05 L387.88 292.39 L388.09 291.75 L388.34 291.14 L388.63 290.54 L388.97 289.97 L389.35 289.42 L389.78 288.9 L390.24 288.4 L390.75 287.93 L391.29 287.49 L391.87 287.08 L392.5 286.7 L393.17 286.36 L393.89 286.06 L394.69 285.82 L395.77 285.78 L395.42 284.76 L395.36 283.93 L395.38 283.15 L395.46 282.4 L395.59 281.68 L395.76 280.98 L395.98 280.32 L396.24 279.68 L396.53 279.07 L396.87 278.49 L397.24 277.93 L397.66 277.41 L398.11 276.92 L398.59 276.47 L399.12 276.04 L399.67 275.65 L400.26 275.3 L400.89 274.98 L401.55 274.7 L402.24 274.46 L402.96 274.26 L403.73 274.12 L404.57 274.05 L405.63 274.24 L405.5 273.17 L405.61 272.34 L405.79 271.58 L406.03 270.87 L406.3 270.19 L406.62 269.55 L406.97 268.94 L407.35 268.37 L407.77 267.83 L408.22 267.33 L408.7 266.87 L409.21 266.45 L409.75 266.06 L410.33 265.72 L410.92 265.41 L411.55 265.15 L412.2 264.92 L412.88 264.74 L413.58 264.6 L414.31 264.51 L415.06 264.47 L415.84 264.49 L416.67 264.6 L417.67 265 L417.76 263.93 L418.04 263.14 L418.38 262.44 L418.76 261.78 L419.17 261.18 L419.61 260.62 L420.08 260.09 L420.57 259.62 L421.09 259.18 L421.64 258.78 L422.21 258.43 L422.8 258.12 L423.41 257.86 L424.04 257.64 L424.69 257.47 L425.35 257.34 L426.04 257.25 L426.74 257.22 L427.45 257.23 L428.18 257.29 L428.92 257.41 L429.69 257.59 L430.47 257.86 L431.37 258.46 L431.68 257.44 L432.12 256.73 L432.6 256.11 L433.1 255.55 L433.63 255.04 L434.18 254.58 L434.74 254.17 L435.33 253.8 L435.93 253.48 L436.54 253.21 L437.17 252.98 L437.81 252.81 L438.46 252.67 L439.13 252.59 L439.8 252.56 L440.48 252.57 L441.16 252.63 L441.85 252.74 L442.55 252.9 L443.25 253.11 L443.96 253.38 L444.66 253.72 L445.38 254.15 L446.12 254.92 L446.65 253.98 L447.22 253.38 L447.82 252.87 L448.43 252.43 L449.05 252.04 L449.68 251.71 L450.32 251.42 L450.97 251.19 L451.62 251 L452.28 250.86 L452.94 250.77 L453.61 250.73 L454.27 250.73 L454.94 250.79 L455.6 250.89 L456.26 251.05 L456.92 251.25 L457.57 251.5 L458.22 251.8 L458.86 252.16 L459.5 252.56 L460.12 253.04 L460.72 253.61 L461.3 254.52 L462 253.71 L462.69 253.24 L463.38 252.87 L464.07 252.56 L464.76 252.32 L465.44 252.12 L466.13 251.97 L466.81 251.88 L467.49 251.83 L468.16 251.83 L468.83 251.88 L469.49 251.98 L470.14 252.12 L470.77 252.31 L471.4 252.56 L472.02 252.84 L472.62 253.18 L473.21 253.56 L473.78 253.99 L474.33 254.47 L474.87 255 L475.38 255.59 L475.85 256.28 L476.22 257.29 L477.08 256.64 L477.85 256.33 L478.6 256.11 L479.34 255.95 L480.06 255.85 L480.78 255.8 L481.48 255.8 L482.17 255.85 L482.84 255.94 L483.5 256.08 L484.14 256.27 L484.76 256.5 L485.37 256.78 L485.95 257.1 L486.51 257.47 L487.06 257.87 L487.58 258.33 L488.07 258.82 L488.54 259.36 L488.98 259.94 L489.39 260.58 L489.77 261.26 L490.09 262.03 L490.24 263.1 L491.22 262.65 L492.04 262.5 L492.82 262.44 L493.57 262.44 L494.3 262.49 L495.01 262.59 L495.69 262.74 L496.36 262.92 L497 263.16 L497.61 263.43 L498.2 263.75 L498.76 264.1 L499.29 264.5 L499.8 264.93 L500.28 265.41 L500.72 265.92 L501.13 266.47 L501.52 267.06 L501.86 267.69 L502.17 268.35 L502.45 269.05 L502.67 269.8 L502.82 270.62 L502.75 271.69 L503.8 271.45 L504.63 271.48 L505.41 271.58 L506.14 271.74 L506.85 271.94 L507.52 272.19 L508.16 272.47 L508.77 272.8 L509.34 273.16 L509.89 273.55 L510.4 273.98 L510.87 274.45 L511.31 274.95 L511.72 275.48 L512.08 276.04 L512.41 276.64 L512.7 277.26 L512.95 277.92 L513.16 278.6 L513.33 279.31 L513.45 280.05 L513.51 280.84 L513.49 281.67 L513.2 282.7 L514.27 282.69 L515.08 282.88 L515.82 283.15 L516.51 283.45 L517.15 283.8 L517.76 284.18 L518.33 284.59 L518.85 285.03 L519.34 285.5 L519.79 286 L520.2 286.53 L520.57 287.09 L520.9 287.67 L521.18 288.27 L521.42 288.9 L521.62 289.55 L521.78 290.22 L521.88 290.91 L521.95 291.62 L521.96 292.35 L521.92 293.11 L521.82 293.88 L521.63 294.69 L521.13 295.64 L522.18 295.85 L522.93 296.21 L523.6 296.62 L524.21 297.07 L524.77 297.54 L525.28 298.04 L525.75 298.56 L526.18 299.1 L526.56 299.66 L526.89 300.24 L527.18 300.85 L527.43 301.46 L527.63 302.1 L527.78 302.75 L527.89 303.41 L527.94 304.09 L527.96 304.78 L527.92 305.48 L527.83 306.19 L527.7 306.91 L527.5 307.63 L527.24 308.37 L526.88 309.13 L526.19 309.95 L527.18 310.37 L527.84 310.88 L528.41 311.42 L528.91 311.98 L529.36 312.56 L529.76 313.15 L530.11 313.76 L530.41 314.38 L530.67 315.01 L530.88 315.65 L531.04 316.3 L531.15 316.95 L531.21 317.62 L531.22 318.28 L531.19 318.96 L531.11 319.63 L530.97 320.31 L530.79 320.98 L530.56 321.66 L530.28 322.33 L529.94 323 L529.53 323.67 L529.02 324.34 L528.18 325 L529.05 325.62 L529.59 326.25 L530.04 326.9 Z" stroke="#1a1a1a" stroke-width="0.9" fill="none"/>
<circle cx="455.6" cy="326.9" r="6.9" fill="#fff" stroke="#111" stroke-width="0.8"/>
<circle cx="455.6" cy="326.9" r="3.1" fill="#fff" stroke="#333" stroke-width="0.9"/>
<g stroke="#1c1c1c" fill="none" stroke-width="1">
<path d="M381.3 410.8 V448.2 M531.9 414.8 V448.2 M381.3 447.3 H531.9"/>
</g>
<path d="M381.3 447.3 l10.5 -1.9 v3.8 Z" fill="#111"/>
<path d="M531.9 447.3 l-10.5 -1.9 v3.8 Z" fill="#111"/>
<g fill="#111" stroke="none">
<rect x="172.7" y="484.9" width="50.2" height="2.3"/>
<rect x="186" y="488.8" width="23.5" height="3.5"/>
<path d="M197.3 494.6 L202.8 507.2 H192.2 Z"/>
</g>
<ellipse cx="197.5" cy="506" rx="1.3" ry="0.7" fill="#fff"/>
<path d="M174.2 507 H221.3 A23.55 22 0 0 1 174.2 507 Z" fill="#111"/>
<path d="M177.45 509.5 H218.05 A20.3 15.8 0 0 1 177.45 509.5 Z" fill="#fff"/>
<path d="M179.3 512.3 A18.9 14.5 0 0 0 197 524" fill="none" stroke="#111" stroke-width="1"/>
<g stroke="#111" fill="none" stroke-width="2.6"><path d="M307.6 504.8 V485.8 H328.1 M335.3 485.8 H355.8 V504.8 M355.8 514.8 V533.8 H335.3 M328.1 533.8 H307.6 V514.8"/><path d="M307.6 485.8 L355.8 533.8 M355.8 485.8 L307.6 533.8" stroke-width="2.2"/></g>
<g stroke="#111" fill="none" stroke-width="1.95"><path d="M428.98 495.8 V483.08 H443.3 M448.4 483.08 H462.72 V495.8 M462.72 503.5 V516.23 H448.4 M443.3 516.23 H428.98 V503.5"/><path d="M428.98 483.08 L462.72 516.23 M462.72 483.08 L428.98 516.23" stroke-width="1.7"/></g>
<text x="61.6" y="230.7" font-family="'Liberation Sans', sans-serif" font-size="9.2" font-weight="normal" text-anchor="start" fill="#111" textLength="90.6" lengthAdjust="spacingAndGlyphs" stroke="#111" stroke-width="0.3">Максимальная длина</text>
<text x="73" y="241.4" font-family="'Liberation Sans', sans-serif" font-size="9.2" font-weight="normal" text-anchor="start" fill="#111" textLength="68" lengthAdjust="spacingAndGlyphs" stroke="#111" stroke-width="0.3">подвеса1200мм</text>
<text x="345.3" y="107.2" font-family="'Liberation Sans', sans-serif" font-size="7.9" font-weight="normal" text-anchor="start" fill="#111" textLength="72" lengthAdjust="spacingAndGlyphs" stroke="#111" stroke-width="0.3">Минимальная длина</text>
<text x="356" y="116" font-family="'Liberation Sans', sans-serif" font-size="7.9" font-weight="normal" text-anchor="start" fill="#111" textLength="49.4" lengthAdjust="spacingAndGlyphs" stroke="#111" stroke-width="0.3">подвеса 25мм</text>
<text x="439.3" y="442.6" font-family="'Liberation Sans', sans-serif" font-size="13.7" font-weight="normal" text-anchor="start" fill="#111" textLength="55" lengthAdjust="spacingAndGlyphs" stroke="#111" stroke-width="0.1">&#248;500MM</text>
<text x="176.12" y="65.2" font-family="'Liberation Serif', serif" font-size="9.4" text-anchor="middle" textLength="4.28" lengthAdjust="spacingAndGlyphs" fill="#111" stroke="#111" stroke-width="0.25">&#934;</text><text x="180.88" y="65.2" font-family="'Liberation Serif', serif" font-size="9.4" text-anchor="middle" textLength="4.28" lengthAdjust="spacingAndGlyphs" fill="#111" stroke="#111" stroke-width="0.25">2</text><text x="185.62" y="65.2" font-family="'Liberation Serif', serif" font-size="9.4" text-anchor="middle" textLength="4.28" lengthAdjust="spacingAndGlyphs" fill="#111" stroke="#111" stroke-width="0.25">0</text><text x="190.38" y="65.2" font-family="'Liberation Serif', serif" font-size="9.4" text-anchor="middle" textLength="4.28" lengthAdjust="spacingAndGlyphs" fill="#111" stroke="#111" stroke-width="0.25">0</text><text x="195.12" y="65.2" font-family="'Liberation Serif', serif" font-size="9.4" text-anchor="middle" textLength="4.28" lengthAdjust="spacingAndGlyphs" fill="#111" stroke="#111" stroke-width="0.25">M</text><text x="199.88" y="65.2" font-family="'Liberation Serif', serif" font-size="9.4" text-anchor="middle" textLength="4.28" lengthAdjust="spacingAndGlyphs" fill="#111" stroke="#111" stroke-width="0.25">M</text>
<text x="176.12" y="83" font-family="'Liberation Serif', serif" font-size="9.4" text-anchor="middle" textLength="4.28" lengthAdjust="spacingAndGlyphs" fill="#111" stroke="#111" stroke-width="0.25">&#934;</text><text x="180.88" y="83" font-family="'Liberation Serif', serif" font-size="9.4" text-anchor="middle" textLength="4.28" lengthAdjust="spacingAndGlyphs" fill="#111" stroke="#111" stroke-width="0.25">1</text><text x="185.62" y="83" font-family="'Liberation Serif', serif" font-size="9.4" text-anchor="middle" textLength="4.28" lengthAdjust="spacingAndGlyphs" fill="#111" stroke="#111" stroke-width="0.25">8</text><text x="190.38" y="83" font-family="'Liberation Serif', serif" font-size="9.4" text-anchor="middle" textLength="4.28" lengthAdjust="spacingAndGlyphs" fill="#111" stroke="#111" stroke-width="0.25">0</text><text x="195.12" y="83" font-family="'Liberation Serif', serif" font-size="9.4" text-anchor="middle" textLength="4.28" lengthAdjust="spacingAndGlyphs" fill="#111" stroke="#111" stroke-width="0.25">M</text><text x="199.88" y="83" font-family="'Liberation Serif', serif" font-size="9.4" text-anchor="middle" textLength="4.28" lengthAdjust="spacingAndGlyphs" fill="#111" stroke="#111" stroke-width="0.25">M</text>
<text x="448.7" y="64.8" font-family="'Liberation Serif', serif" font-size="7.6" text-anchor="middle" textLength="3.6" lengthAdjust="spacingAndGlyphs" fill="#111" stroke="#111" stroke-width="0.2">&#934;</text><text x="452.7" y="64.8" font-family="'Liberation Serif', serif" font-size="7.6" text-anchor="middle" textLength="3.6" lengthAdjust="spacingAndGlyphs" fill="#111" stroke="#111" stroke-width="0.2">2</text><text x="456.7" y="64.8" font-family="'Liberation Serif', serif" font-size="7.6" text-anchor="middle" textLength="3.6" lengthAdjust="spacingAndGlyphs" fill="#111" stroke="#111" stroke-width="0.2">0</text><text x="460.7" y="64.8" font-family="'Liberation Serif', serif" font-size="7.6" text-anchor="middle" textLength="3.6" lengthAdjust="spacingAndGlyphs" fill="#111" stroke="#111" stroke-width="0.2">0</text><text x="464.7" y="64.8" font-family="'Liberation Serif', serif" font-size="7.6" text-anchor="middle" textLength="3.6" lengthAdjust="spacingAndGlyphs" fill="#111" stroke="#111" stroke-width="0.2">M</text><text x="468.7" y="64.8" font-family="'Liberation Serif', serif" font-size="7.6" text-anchor="middle" textLength="3.6" lengthAdjust="spacingAndGlyphs" fill="#111" stroke="#111" stroke-width="0.2">M</text>
<text x="448.7" y="79.9" font-family="'Liberation Serif', serif" font-size="7.6" text-anchor="middle" textLength="3.6" lengthAdjust="spacingAndGlyphs" fill="#111" stroke="#111" stroke-width="0.2">&#934;</text><text x="452.7" y="79.9" font-family="'Liberation Serif', serif" font-size="7.6" text-anchor="middle" textLength="3.6" lengthAdjust="spacingAndGlyphs" fill="#111" stroke="#111" stroke-width="0.2">1</text><text x="456.7" y="79.9" font-family="'Liberation Serif', serif" font-size="7.6" text-anchor="middle" textLength="3.6" lengthAdjust="spacingAndGlyphs" fill="#111" stroke="#111" stroke-width="0.2">8</text><text x="460.7" y="79.9" font-family="'Liberation Serif', serif" font-size="7.6" text-anchor="middle" textLength="3.6" lengthAdjust="spacingAndGlyphs" fill="#111" stroke="#111" stroke-width="0.2">0</text><text x="464.7" y="79.9" font-family="'Liberation Serif', serif" font-size="7.6" text-anchor="middle" textLength="3.6" lengthAdjust="spacingAndGlyphs" fill="#111" stroke="#111" stroke-width="0.2">M</text><text x="468.7" y="79.9" font-family="'Liberation Serif', serif" font-size="7.6" text-anchor="middle" textLength="3.6" lengthAdjust="spacingAndGlyphs" fill="#111" stroke="#111" stroke-width="0.2">M</text>
<g transform="translate(263.8 233.5) rotate(-90)"><text x="-20.62" y="6" font-family="'Liberation Serif', serif" font-size="17.5" text-anchor="middle" textLength="7.42" lengthAdjust="spacingAndGlyphs" fill="#111" stroke="#111" stroke-width="0.2">1</text><text x="-12.38" y="6" font-family="'Liberation Serif', serif" font-size="17.5" text-anchor="middle" textLength="7.42" lengthAdjust="spacingAndGlyphs" fill="#111" stroke="#111" stroke-width="0.2">2</text><text x="-4.12" y="6" font-family="'Liberation Serif', serif" font-size="17.5" text-anchor="middle" textLength="7.42" lengthAdjust="spacingAndGlyphs" fill="#111" stroke="#111" stroke-width="0.2">0</text><text x="4.12" y="6" font-family="'Liberation Serif', serif" font-size="17.5" text-anchor="middle" textLength="7.42" lengthAdjust="spacingAndGlyphs" fill="#111" stroke="#111" stroke-width="0.2">0</text><text x="12.38" y="6" font-family="'Liberation Serif', serif" font-size="17.5" text-anchor="middle" textLength="7.42" lengthAdjust="spacingAndGlyphs" fill="#111" stroke="#111" stroke-width="0.2">M</text><text x="20.62" y="6" font-family="'Liberation Serif', serif" font-size="17.5" text-anchor="middle" textLength="7.42" lengthAdjust="spacingAndGlyphs" fill="#111" stroke="#111" stroke-width="0.2">M</text></g>
<g transform="translate(321.4 272.5) rotate(-90)"><text x="-20.62" y="6" font-family="'Liberation Serif', serif" font-size="17.5" text-anchor="middle" textLength="7.42" lengthAdjust="spacingAndGlyphs" fill="#111" stroke="#111" stroke-width="0.2">1</text><text x="-12.38" y="6" font-family="'Liberation Serif', serif" font-size="17.5" text-anchor="middle" textLength="7.42" lengthAdjust="spacingAndGlyphs" fill="#111" stroke="#111" stroke-width="0.2">4</text><text x="-4.12" y="6" font-family="'Liberation Serif', serif" font-size="17.5" text-anchor="middle" textLength="7.42" lengthAdjust="spacingAndGlyphs" fill="#111" stroke="#111" stroke-width="0.2">5</text><text x="4.12" y="6" font-family="'Liberation Serif', serif" font-size="17.5" text-anchor="middle" textLength="7.42" lengthAdjust="spacingAndGlyphs" fill="#111" stroke="#111" stroke-width="0.2">0</text><text x="12.38" y="6" font-family="'Liberation Serif', serif" font-size="17.5" text-anchor="middle" textLength="7.42" lengthAdjust="spacingAndGlyphs" fill="#111" stroke="#111" stroke-width="0.2">M</text><text x="20.62" y="6" font-family="'Liberation Serif', serif" font-size="17.5" text-anchor="middle" textLength="7.42" lengthAdjust="spacingAndGlyphs" fill="#111" stroke="#111" stroke-width="0.2">M</text></g>
<g transform="translate(288.5 400) rotate(-90)"><text x="-16.8" y="6" font-family="'Liberation Serif', serif" font-size="17.5" text-anchor="middle" textLength="7.56" lengthAdjust="spacingAndGlyphs" fill="#111" stroke="#111" stroke-width="0.2">2</text><text x="-8.4" y="6" font-family="'Liberation Serif', serif" font-size="17.5" text-anchor="middle" textLength="7.56" lengthAdjust="spacingAndGlyphs" fill="#111" stroke="#111" stroke-width="0.2">1</text><text x="0" y="6" font-family="'Liberation Serif', serif" font-size="17.5" text-anchor="middle" textLength="7.56" lengthAdjust="spacingAndGlyphs" fill="#111" stroke="#111" stroke-width="0.2">5</text><text x="8.4" y="6" font-family="'Liberation Serif', serif" font-size="17.5" text-anchor="middle" textLength="7.56" lengthAdjust="spacingAndGlyphs" fill="#111" stroke="#111" stroke-width="0.2">M</text><text x="16.8" y="6" font-family="'Liberation Serif', serif" font-size="17.5" text-anchor="middle" textLength="7.56" lengthAdjust="spacingAndGlyphs" fill="#111" stroke="#111" stroke-width="0.2">M</text></g>
<g transform="translate(539.3 157.2) rotate(-90)"><text x="-7.8" y="2.2" font-family="'Liberation Serif', serif" font-size="6.6" text-anchor="middle" textLength="3.51" lengthAdjust="spacingAndGlyphs" fill="#111" stroke="#111" stroke-width="0.3">2</text><text x="-3.9" y="2.2" font-family="'Liberation Serif', serif" font-size="6.6" text-anchor="middle" textLength="3.51" lengthAdjust="spacingAndGlyphs" fill="#111" stroke="#111" stroke-width="0.3">1</text><text x="0" y="2.2" font-family="'Liberation Serif', serif" font-size="6.6" text-anchor="middle" textLength="3.51" lengthAdjust="spacingAndGlyphs" fill="#111" stroke="#111" stroke-width="0.3">5</text><text x="3.9" y="2.2" font-family="'Liberation Serif', serif" font-size="6.6" text-anchor="middle" textLength="3.51" lengthAdjust="spacingAndGlyphs" fill="#111" stroke="#111" stroke-width="0.3">M</text><text x="7.8" y="2.2" font-family="'Liberation Serif', serif" font-size="6.6" text-anchor="middle" textLength="3.51" lengthAdjust="spacingAndGlyphs" fill="#111" stroke="#111" stroke-width="0.3">M</text></g>
<g transform="translate(561.7 143.8) rotate(-90)"><text x="-7.8" y="2.2" font-family="'Liberation Serif', serif" font-size="6.6" text-anchor="middle" textLength="3.51" lengthAdjust="spacingAndGlyphs" fill="#111" stroke="#111" stroke-width="0.3">2</text><text x="-3.9" y="2.2" font-family="'Liberation Serif', serif" font-size="6.6" text-anchor="middle" textLength="3.51" lengthAdjust="spacingAndGlyphs" fill="#111" stroke="#111" stroke-width="0.3">8</text><text x="0" y="2.2" font-family="'Liberation Serif', serif" font-size="6.6" text-anchor="middle" textLength="3.51" lengthAdjust="spacingAndGlyphs" fill="#111" stroke="#111" stroke-width="0.3">5</text><text x="3.9" y="2.2" font-family="'Liberation Serif', serif" font-size="6.6" text-anchor="middle" textLength="3.51" lengthAdjust="spacingAndGlyphs" fill="#111" stroke="#111" stroke-width="0.3">M</text><text x="7.8" y="2.2" font-family="'Liberation Serif', serif" font-size="6.6" text-anchor="middle" textLength="3.51" lengthAdjust="spacingAndGlyphs" fill="#111" stroke="#111" stroke-width="0.3">M</text></g>
<g transform="translate(232.2 108.4) rotate(-90)"><text x="-4.69" y="1.5" font-family="'Liberation Serif', serif" font-size="4.6" text-anchor="middle" textLength="2.81" lengthAdjust="spacingAndGlyphs" fill="#111" stroke="#111" stroke-width="0.25">3</text><text x="-1.56" y="1.5" font-family="'Liberation Serif', serif" font-size="4.6" text-anchor="middle" textLength="2.81" lengthAdjust="spacingAndGlyphs" fill="#111" stroke="#111" stroke-width="0.25">5</text><text x="1.56" y="1.5" font-family="'Liberation Serif', serif" font-size="4.6" text-anchor="middle" textLength="2.81" lengthAdjust="spacingAndGlyphs" fill="#111" stroke="#111" stroke-width="0.25">M</text><text x="4.69" y="1.5" font-family="'Liberation Serif', serif" font-size="4.6" text-anchor="middle" textLength="2.81" lengthAdjust="spacingAndGlyphs" fill="#111" stroke="#111" stroke-width="0.25">M</text></g>
<g transform="translate(495.5 100.6) rotate(-90)"><text x="-3.75" y="1.2" font-family="'Liberation Serif', serif" font-size="3.8" text-anchor="middle" textLength="2.25" lengthAdjust="spacingAndGlyphs" fill="#111" stroke="#111" stroke-width="0.2">3</text><text x="-1.25" y="1.2" font-family="'Liberation Serif', serif" font-size="3.8" text-anchor="middle" textLength="2.25" lengthAdjust="spacingAndGlyphs" fill="#111" stroke="#111" stroke-width="0.2">5</text><text x="1.25" y="1.2" font-family="'Liberation Serif', serif" font-size="3.8" text-anchor="middle" textLength="2.25" lengthAdjust="spacingAndGlyphs" fill="#111" stroke="#111" stroke-width="0.2">M</text><text x="3.75" y="1.2" font-family="'Liberation Serif', serif" font-size="3.8" text-anchor="middle" textLength="2.25" lengthAdjust="spacingAndGlyphs" fill="#111" stroke="#111" stroke-width="0.2">M</text></g>
<g transform="translate(506.8 111) rotate(-90)"><text x="-3.75" y="1.2" font-family="'Liberation Serif', serif" font-size="3.8" text-anchor="middle" textLength="2.25" lengthAdjust="spacingAndGlyphs" fill="#111" stroke="#111" stroke-width="0.2">2</text><text x="-1.25" y="1.2" font-family="'Liberation Serif', serif" font-size="3.8" text-anchor="middle" textLength="2.25" lengthAdjust="spacingAndGlyphs" fill="#111" stroke="#111" stroke-width="0.2">5</text><text x="1.25" y="1.2" font-family="'Liberation Serif', serif" font-size="3.8" text-anchor="middle" textLength="2.25" lengthAdjust="spacingAndGlyphs" fill="#111" stroke="#111" stroke-width="0.2">M</text><text x="3.75" y="1.2" font-family="'Liberation Serif', serif" font-size="3.8" text-anchor="middle" textLength="2.25" lengthAdjust="spacingAndGlyphs" fill="#111" stroke="#111" stroke-width="0.2">M</text></g>
<text x="197.7" y="542.7" font-family="'Liberation Sans', sans-serif" font-size="9.5" font-weight="bold" text-anchor="middle" fill="#111" textLength="36.5" lengthAdjust="spacingAndGlyphs" stroke="#000" stroke-width="0.42">Размер</text>
<text x="198.5" y="554.1" font-family="'Liberation Sans', sans-serif" font-size="9.5" font-weight="bold" text-anchor="middle" fill="#111" textLength="86.9" lengthAdjust="spacingAndGlyphs" stroke="#000" stroke-width="0.42">потолочной чаши</text>
<text x="199.2" y="565.4" font-family="'Liberation Sans', sans-serif" font-size="9.5" font-weight="bold" text-anchor="middle" fill="#111" textLength="65" lengthAdjust="spacingAndGlyphs" stroke="#000" stroke-width="0.42">&#248; 180 * 35 мм</text>
<text x="328.8" y="550.5" font-family="'Liberation Sans', sans-serif" font-size="12.1" font-weight="bold" text-anchor="middle" fill="#111" textLength="129.5" lengthAdjust="spacingAndGlyphs" stroke="#000" stroke-width="0.5">Регулируемая длина</text>
<text x="330" y="565.2" font-family="'Liberation Sans', sans-serif" font-size="12.1" font-weight="bold" text-anchor="middle" fill="#111" textLength="107.6" lengthAdjust="spacingAndGlyphs" stroke="#000" stroke-width="0.5">подвеса 1200 мм</text>
<text x="445" y="537.9" font-family="'Liberation Sans', sans-serif" font-size="8.5" font-weight="bold" text-anchor="middle" fill="#111" textLength="32.3" lengthAdjust="spacingAndGlyphs" stroke="#000" stroke-width="0.38">Размер</text>
<text x="445.8" y="547" font-family="'Liberation Sans', sans-serif" font-size="8.5" font-weight="bold" text-anchor="middle" fill="#111" textLength="49.8" lengthAdjust="spacingAndGlyphs" stroke="#000" stroke-width="0.38">монтажных</text>
<text x="445.8" y="556.2" font-family="'Liberation Sans', sans-serif" font-size="8.5" font-weight="bold" text-anchor="middle" fill="#111" textLength="44.5" lengthAdjust="spacingAndGlyphs" stroke="#000" stroke-width="0.38">отверстий</text>
<text x="446.3" y="565.1" font-family="'Liberation Sans', sans-serif" font-size="8.5" font-weight="bold" text-anchor="middle" fill="#111" textLength="31.4" lengthAdjust="spacingAndGlyphs" stroke="#000" stroke-width="0.38">147 мм</text>
</svg>
</body></html>
